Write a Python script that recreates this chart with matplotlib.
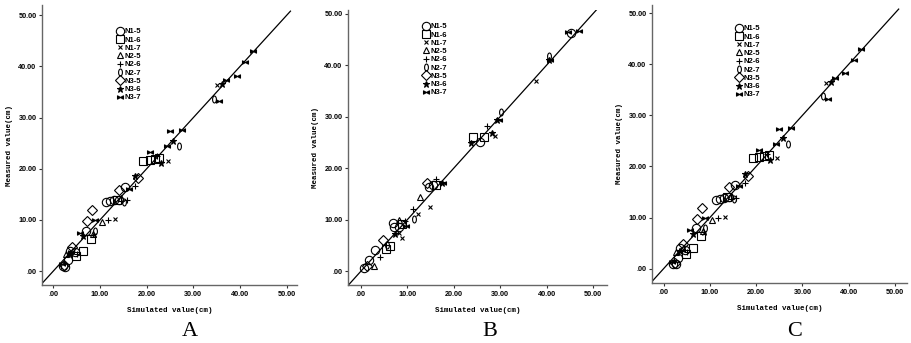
import numpy as np
import matplotlib.pyplot as plt
from matplotlib.path import Path
from matplotlib.transforms import Affine2D

# series names (legend order)
labels = ['N1-5', 'N1-6', 'N1-7', 'N2-5', 'N2-6', 'N2-7', 'N3-5', 'N3-6', 'N3-7']

# panel A and C (same data): [simulated], [measured]
ac_n1_5 = [[2.1, 2.6, 3.2, 3.6, 4.6, 7.0, 11.3, 12.1, 13.1, 14.1, 15.4],
           [1.0, 0.9, 2.1, 4.0, 3.7, 7.9, 13.5, 13.7, 13.9, 14.0, 16.4]]
ac_n1_6 = [[4.8, 6.4, 8.1, 13.6, 19.3, 20.7, 21.8, 22.7],
           [2.9, 4.0, 6.3, 14.0, 21.6, 21.8, 22.0, 22.2]]
ac_n1_7 = [[8.8, 13.2, 24.5, 35.1],
           [7.0, 10.1, 21.6, 36.4]]
ac_n2_5 = [[2.7, 8.6, 10.4, 14.6],
           [3.3, 7.3, 9.6, 14.2]]
ac_n2_6 = [[5.0, 11.8, 15.7, 17.5, 22.3],
           [3.3, 10.0, 13.9, 16.7, 22.5]]
ac_n2_7 = [[9.0, 15.2, 26.9, 34.5],
           [7.9, 13.6, 24.4, 33.7]]
ac_n3_5 = [[2.4, 4.1, 7.3, 8.4, 14.1, 18.2],
           [1.2, 4.8, 9.8, 11.9, 15.9, 18.2]]
ac_n3_6 = [[3.6, 6.3, 17.5, 23.1, 25.7, 36.1],
           [3.4, 6.8, 18.6, 21.2, 25.5, 36.5]]
ac_n3_7 = [[1.8, 3.9, 5.7, 8.9, 16.3, 20.7, 24.3, 25.0, 27.5, 35.6, 37.1, 39.3, 41.1, 42.7],
           [1.4, 3.7, 7.5, 10.0, 16.1, 23.3, 24.4, 27.4, 27.5, 33.2, 37.3, 38.2, 40.8, 43.0]]

# panel B
b_n1_5 = [[0.7, 1.8, 3.0, 6.8, 7.2, 8.2, 14.7, 15.6, 25.6, 45.3],
          [0.6, 2.2, 4.0, 9.3, 8.5, 8.5, 16.3, 16.8, 25.1, 46.3]]
b_n1_6 = [[5.4, 6.2, 8.8, 16.2, 24.2, 26.5],
          [4.2, 4.8, 9.2, 16.8, 26.1, 26.1]]
b_n1_7 = [[8.2, 8.8, 12.3, 14.9, 28.8, 37.8],
          [7.4, 6.4, 11.1, 12.5, 26.2, 36.9]]
b_n2_5 = [[2.8, 8.2, 12.7],
          [0.9, 10.0, 14.4]]
b_n2_6 = [[4.1, 9.5, 11.3, 16.1, 27.2],
          [2.8, 9.7, 12.0, 17.8, 28.2]]
b_n2_7 = [[5.7, 11.5, 30.1, 40.5],
          [5.0, 10.2, 30.9, 41.8]]
b_n3_5 = [[1.2, 4.7, 14.3],
          [1.0, 6.1, 17.1]]
b_n3_6 = [[7.3, 17.4, 23.8, 28.3, 29.2, 40.5],
          [7.3, 17.1, 24.9, 26.8, 29.3, 40.9]]
b_n3_7 = [[9.8, 17.7, 29.8, 40.8, 44.6, 47.0],
          [8.7, 17.2, 29.4, 40.9, 46.4, 46.6]]

ac_data = [ac_n1_5, ac_n1_6, ac_n1_7, ac_n2_5, ac_n2_6, ac_n2_7, ac_n3_5, ac_n3_6, ac_n3_7]
b_data = [b_n1_5, b_n1_6, b_n1_7, b_n2_5, b_n2_6, b_n2_7, b_n3_5, b_n3_6, b_n3_7]

ticks = [0, 10, 20, 30, 40, 50]
tick_labels = ['.00', '10.00', '20.00', '30.00', '40.00', '50.00']

# custom markers: narrow "0" ellipse and bowtie
zero_mk = Path.unit_circle().transformed(Affine2D().scale(0.55, 1.0))
bowtie = Path([(-1, -0.55), (-1, 0.55), (0, 0), (1, 0.55), (1, -0.55), (0, 0), (-1, -0.55)],
              [1, 2, 2, 2, 2, 2, 79])

styles = [
    dict(marker='o', ms=6, mfc='none'),
    dict(marker='s', ms=6, mfc='none'),
    dict(marker='x', ms=3.5),
    dict(marker='^', ms=4, mfc='none'),
    dict(marker='+', ms=5),
    dict(marker=zero_mk, ms=5, mfc='none'),
    dict(marker='D', ms=5.5, mfc='none'),
    dict(marker='*', ms=5, mfc='k'),
    dict(marker=bowtie, ms=4.3, mfc='k'),
]

fig = plt.figure(figsize=(9.12, 3.43), dpi=100)
W, H = 912.0, 343.0

# pixel boxes: left, bottom, right, top (from image top)  + limits
panels = [
    ('A', ac_data, (42, 285, 297, 5), (-2.4, 52.2), (-2.7, 52.0), (117, 28), 190),
    ('B', b_data, (348, 285, 607, 10), (-2.8, 53.0), (-2.7, 50.7), (423, 23), 490),
    ('C', ac_data, (652, 283, 907, 5), (-2.5, 52.6), (-2.8, 51.6), (736, 25), 795),
]

for name, data, box, xl, yl, leg_xy, lab_x in panels:
    l, b, r, t = box
    ax = fig.add_axes([l / W, (H - b) / H, (r - l) / W, (b - t) / H])
    ax.plot([xl[0], 50.8], [xl[0], 50.8], color='k', lw=0.9, zorder=1)
    for lab, d, st in zip(labels, data, styles):
        ax.plot(d[0], d[1], ls='none', mec='k', color='k', mew=0.8, label=lab, **st)
    ax.set_xlim(*xl)
    ax.set_ylim(*yl)
    ax.set_xticks(ticks)
    ax.set_yticks(ticks)
    ax.set_xticklabels(tick_labels, fontsize=5.2, fontweight='bold', family='Liberation Sans')
    ax.set_yticklabels(tick_labels, fontsize=5.2, fontweight='bold', family='Liberation Sans')
    ax.tick_params(direction='out', length=2.5, width=0.8, color='#333333', pad=1.5)
    for s in ['top', 'right']:
        ax.spines[s].set_visible(False)
    for s in ['left', 'bottom']:
        ax.spines[s].set_color('#666666')
        ax.spines[s].set_linewidth(1.0)
    ax.set_xlabel('Simulated value(cm)', family='Liberation Mono', fontweight='bold',
                  fontsize=5.4, labelpad=7)
    ax.set_ylabel('Measured value(cm)', family='Liberation Mono', fontweight='bold',
                  fontsize=5.4, labelpad=4)
    ax.legend(loc='upper left', bbox_to_anchor=(leg_xy[0] / W, (H - leg_xy[1]) / H),
              bbox_transform=fig.transFigure, frameon=False, numpoints=1,
              prop={'family': 'Liberation Sans', 'weight': 'bold', 'size': 5.5},
              handlelength=0.8, handletextpad=0.2, labelspacing=0.12,
              borderpad=0, borderaxespad=0)
    fig.text(lab_x / W, (H - 332) / H, name, ha='center', va='center',
             fontsize=16, family='Liberation Serif')

fig.savefig('out.png', dpi=100)
